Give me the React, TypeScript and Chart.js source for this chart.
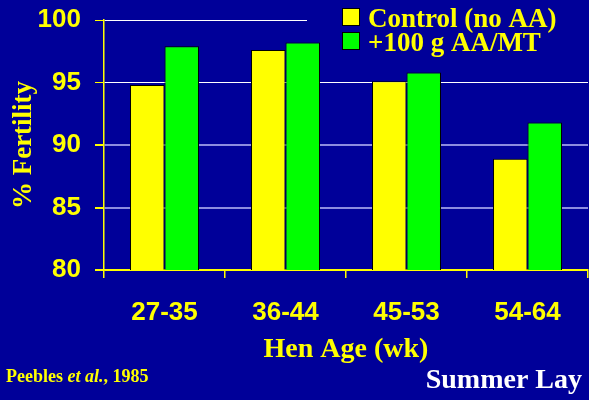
import React, { useEffect, useRef } from "react";
import { Chart, registerables } from "chart.js";

Chart.register(...registerables);

const categories = ["27-35", "36-44", "45-53", "54-64"];
const controlValues = [94.8, 97.6, 95.1, 88.9];
const treatedValues = [97.9, 98.2, 95.8, 91.8];
const seriesNames = ["Control (no AA)", "+100 g AA/MT"];
const seriesColors = ["#ffff00", "#00ff00"];
const yMin = 80;
const yMax = 100;
const yStep = 5;
const yTitle = "% Fertility";
const xTitle = "Hen Age (wk)";
const sourceNote = ["Peebles ", "et al.", ", 1985"];
const cornerNote = "Summer Lay";

const NAVY = "#000099";
const YELLOW = "#ffff00";
const SANS = "'Liberation Sans', Arial, sans-serif";
const SERIF = "'Liberation Serif', 'Times New Roman', serif";

const decorPlugin = {
  id: "decor",
  beforeDraw(chart: any) {
    const ctx = chart.ctx;
    ctx.save();
    ctx.fillStyle = NAVY;
    ctx.fillRect(0, 0, chart.width, chart.height);
    ctx.restore();
  },
  beforeDatasetsDraw(chart: any) {
    const ctx = chart.ctx;
    ctx.save();
    // legend background hides the top grid line behind the legend
    ctx.fillStyle = NAVY;
    ctx.fillRect(307, 10, chart.width - 307, 20);
    ctx.restore();
  },
  afterDraw(chart: any) {
    const ctx = chart.ctx;
    const area = chart.chartArea;
    ctx.save();
    // legend
    ctx.font = `bold 27px ${SERIF}`;
    ctx.textBaseline = "alphabetic";
    ctx.textAlign = "left";
    seriesNames.forEach((name, i) => {
      const y = 8 + i * 24;
      ctx.fillStyle = seriesColors[i];
      ctx.fillRect(342, y, 17, 17);
      ctx.strokeStyle = "#000000";
      ctx.lineWidth = 1;
      ctx.strokeRect(342.5, y + 0.5, 17, 17);
      ctx.fillStyle = YELLOW;
      ctx.fillText(name, 368, 27 + i * 24);
    });
    // y title
    ctx.save();
    ctx.translate(31, (area.top + area.bottom) / 2);
    ctx.rotate(-Math.PI / 2);
    ctx.textAlign = "center";
    ctx.font = `bold 27px ${SERIF}`;
    ctx.fillStyle = YELLOW;
    ctx.fillText(yTitle, 0, 0);
    ctx.restore();
    // x title
    ctx.textAlign = "center";
    ctx.font = `bold 28px ${SERIF}`;
    ctx.fillStyle = YELLOW;
    ctx.fillText(xTitle, (area.left + area.right) / 2, 357);
    // source note
    ctx.textAlign = "left";
    let x = 6;
    sourceNote.forEach((part, i) => {
      ctx.font = i === 1 ? `italic bold 18px ${SERIF}` : `bold 18px ${SERIF}`;
      ctx.fillText(part, x, 382);
      x += ctx.measureText(part).width;
    });
    // corner note
    ctx.textAlign = "right";
    ctx.font = `bold 28px ${SERIF}`;
    ctx.fillStyle = "#ffffff";
    ctx.fillText(cornerNote, 582, 388);
    ctx.restore();
  },
};

export default function App() {
  const ref = useRef<HTMLCanvasElement>(null);
  useEffect(() => {
    if (!ref.current) return;
    const chart = new Chart(ref.current, {
      type: "bar",
      data: {
        labels: categories,
        datasets: [
          {
            label: seriesNames[0],
            data: controlValues,
            backgroundColor: seriesColors[0],
            borderColor: "#000000",
            borderWidth: 1,
            barPercentage: 1,
            categoryPercentage: 0.57,
          },
          {
            label: seriesNames[1],
            data: treatedValues,
            backgroundColor: seriesColors[1],
            borderColor: "#000000",
            borderWidth: 1,
            barPercentage: 1,
            categoryPercentage: 0.57,
          },
        ],
      },
      options: {
        responsive: false,
        animation: false,
        layout: { padding: { top: 20, right: 1, left: 0, bottom: 0 } },
        plugins: { legend: { display: false }, tooltip: { enabled: false } },
        scales: {
          x: {
            offset: true,
            grid: {
              offset: true,
              drawOnChartArea: false,
              drawTicks: true,
              tickLength: 8,
              tickColor: YELLOW,
              lineWidth: 1.5,
            },
            border: { color: YELLOW, width: 1.5 },
            ticks: {
              color: YELLOW,
              font: { family: SANS, size: 26, weight: "bold" },
              padding: 19,
              maxRotation: 0,
            },
            afterFit: (s: any) => {
              s.height = 130;
              s.paddingLeft = 0;
              s.paddingRight = 0;
            },
          },
          y: {
            min: yMin,
            max: yMax,
            ticks: {
              stepSize: yStep,
              color: YELLOW,
              font: { family: SANS, size: 26, weight: "bold" },
              padding: 14,
            },
            grid: {
              color: (c: any) =>
                c.tick && c.tick.value === yMin
                  ? YELLOW
                  : c.tick && c.tick.value >= 95
                  ? "#ffffff"
                  : "#8c8ce0",
              lineWidth: (c: any) => (c.tick && c.tick.value >= 95 ? 1 : 2),
              tickColor: YELLOW,
              tickLength: 9,
            },
            border: { color: YELLOW, width: 1.5 },
            afterFit: (s: any) => {
              s.width = 104;
              s.paddingTop = 0;
              s.paddingBottom = 0;
            },
          },
        },
      } as any,
      plugins: [decorPlugin],
    });
    return () => chart.destroy();
  }, []);
  return (
    <div style={{ position: "absolute", left: 0, top: 0, width: 589, height: 400, background: NAVY }}>
      <canvas ref={ref} width={589} height={400} style={{ display: "block" }} />
    </div>
  );
}
